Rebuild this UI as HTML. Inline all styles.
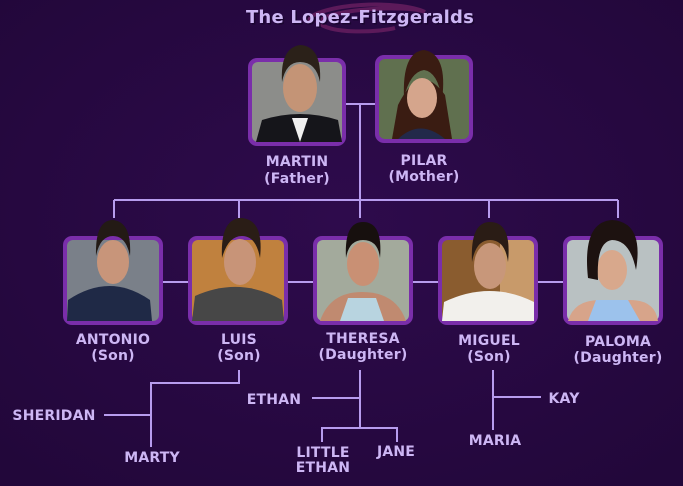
<!DOCTYPE html>
<html><head><meta charset="utf-8"><style>
html,body{margin:0;padding:0;background:#2a0a45;}
svg{display:block}
text{font-family:"DejaVu Sans","Liberation Sans",sans-serif;fill:#cdb6f4;text-anchor:middle;font-size:14px;font-weight:bold;letter-spacing:0.2px}
.t{font-size:18px;font-weight:bold;letter-spacing:0.2px}
</style></head><body>
<svg width="683" height="486" viewBox="0 0 683 486" xmlns="http://www.w3.org/2000/svg">
<defs>
<radialGradient id="bg" cx="50%" cy="45%" r="70%"><stop offset="0" stop-color="#2e0b4c"/><stop offset="1" stop-color="#22073a"/></radialGradient>
</defs>
<rect width="683" height="486" fill="url(#bg)"/>
<path d="M305 22 C320 2,400 0,425 12 C410 5,330 8,318 22 C330 35,380 32,395 28" fill="none" stroke="#6a1f60" stroke-width="4" opacity="0.8"/>
<text class="t" x="360" y="23" style="fill:#1a0530" transform="translate(1.5,1.5)">The Lopez-Fitzgeralds</text>
<text class="t" x="360" y="23">The Lopez-Fitzgeralds</text>

<g stroke="#b79cee" stroke-width="2" fill="none">
<path d="M346 104H375 M360 104V200 M114 200H618 M114 200V218 M239 200V218 M360 200V218 M489 200V218 M618 200V218"/>
<path d="M163 282H188 M288 282H313 M413 282H438 M538 282H563"/>
<path d="M239 370V383H151V447 M104 415H151"/>
<path d="M360 370V428 M312 398H360 M322 442V428H397V442"/>
<path d="M493 370V430 M493 397H541"/>
</g>

<g>
<rect x="248" y="58" width="98" height="88" rx="9" fill="#7a2eaa"/>
<rect x="252" y="62" width="90" height="80" rx="6" fill="#8c8d8a"/>
<path d="M256 142 L262 120 Q300 108 338 120 L342 142Z" fill="#15151a"/>
<path d="M292 118 L300 142 L308 118Z" fill="#f0f0f0"/>
<ellipse cx="300" cy="88" rx="17" ry="24" fill="#c49476"/>
<path d="M282 82 Q280 48 300 45 Q322 46 320 82 Q316 62 300 62 Q286 62 282 82Z" fill="#2b2119"/>
<rect x="375" y="55" width="98" height="88" rx="9" fill="#7a2eaa"/>
<rect x="379" y="59" width="90" height="80" rx="6" fill="#60704f"/>
<path d="M392 139 L398 105 Q420 60 445 95 L452 139Z" fill="#3a1c12"/>
<path d="M398 139 Q420 118 445 139Z" fill="#22294a"/>
<ellipse cx="422" cy="98" rx="15" ry="20" fill="#d5a58c"/>
<path d="M404 98 Q402 52 424 50 Q448 54 442 100 Q438 72 424 70 Q410 72 404 98Z" fill="#3a1c12"/>
<rect x="63" y="236" width="100" height="89" rx="9" fill="#7a2eaa"/>
<rect x="67" y="240" width="92" height="81" rx="6" fill="#7a8089"/>
<path d="M67 321 L68 300 Q110 272 150 300 L152 321Z" fill="#1f2946"/>
<ellipse cx="113" cy="262" rx="16" ry="22" fill="#c8957a"/>
<path d="M96 256 Q95 220 113 220 Q132 222 130 256 Q126 236 113 236 Q100 236 96 256Z" fill="#231a15"/>
<rect x="188" y="236" width="100" height="89" rx="9" fill="#7a2eaa"/>
<rect x="192" y="240" width="92" height="81" rx="6" fill="#c0813e"/>
<path d="M192 321 L195 296 Q240 276 282 300 L284 321Z" fill="#474747"/>
<ellipse cx="240" cy="262" rx="16" ry="23" fill="#c89478"/>
<path d="M222 258 Q220 218 242 218 Q264 220 260 258 Q256 236 242 236 Q228 236 222 258Z" fill="#2a1d16"/>
<rect x="313" y="236" width="100" height="89" rx="9" fill="#7a2eaa"/>
<rect x="317" y="240" width="92" height="81" rx="6" fill="#a3aa9c"/>
<path d="M320 321 Q330 292 362 292 Q396 292 406 321Z" fill="#c08a70"/>
<path d="M340 321 L348 298 L376 298 L384 321Z" fill="#b8d4e0"/>
<ellipse cx="363" cy="264" rx="16" ry="22" fill="#c99074"/>
<path d="M346 258 Q344 222 363 222 Q383 222 380 258 Q378 240 363 240 Q349 240 346 258Z" fill="#17100e"/>
<rect x="438" y="236" width="100" height="89" rx="9" fill="#7a2eaa"/>
<rect x="442" y="240" width="92" height="81" rx="6" fill="#8a5c2f"/>
<rect x="500" y="240" width="34" height="81" rx="6" fill="#c89a6a"/>
<path d="M442 321 L444 302 Q490 280 534 302 L534 321Z" fill="#f2f0ec"/>
<ellipse cx="490" cy="266" rx="16" ry="23" fill="#c8977a"/>
<path d="M472 262 Q470 222 490 222 Q512 222 508 262 Q505 240 490 240 Q476 240 472 262Z" fill="#2a1c15"/>
<rect x="563" y="236" width="100" height="89" rx="9" fill="#7a2eaa"/>
<rect x="567" y="240" width="92" height="81" rx="6" fill="#b9c1c2"/>
<path d="M568 321 Q574 300 600 300 L630 300 Q655 300 658 321Z" fill="#d7a48a"/>
<path d="M588 321 L596 300 L628 300 L640 321Z" fill="#9cc2ec"/>
<ellipse cx="612" cy="270" rx="15" ry="20" fill="#d8a88c"/>
<path d="M588 278 Q582 222 612 220 Q644 222 636 270 Q630 240 612 240 Q596 242 598 280Z" fill="#1d1210"/>
</g>

<g>
<text x="297" y="166">MARTIN</text><text x="297" y="183">(Father)</text>
<text x="424" y="165">PILAR</text><text x="424" y="181">(Mother)</text>
<text x="113" y="344">ANTONIO</text><text x="113" y="360">(Son)</text>
<text x="239" y="344">LUIS</text><text x="239" y="360">(Son)</text>
<text x="363" y="343">THERESA</text><text x="363" y="359">(Daughter)</text>
<text x="489" y="345">MIGUEL</text><text x="489" y="361">(Son)</text>
<text x="618" y="346">PALOMA</text><text x="618" y="362">(Daughter)</text>
<text x="54" y="420">SHERIDAN</text>
<text x="152" y="462">MARTY</text>
<text x="274" y="404">ETHAN</text>
<text x="323" y="457">LITTLE</text><text x="323" y="472">ETHAN</text>
<text x="396" y="456">JANE</text>
<text x="564" y="403">KAY</text>
<text x="495" y="445">MARIA</text>
</g>
</svg>
</body></html>
